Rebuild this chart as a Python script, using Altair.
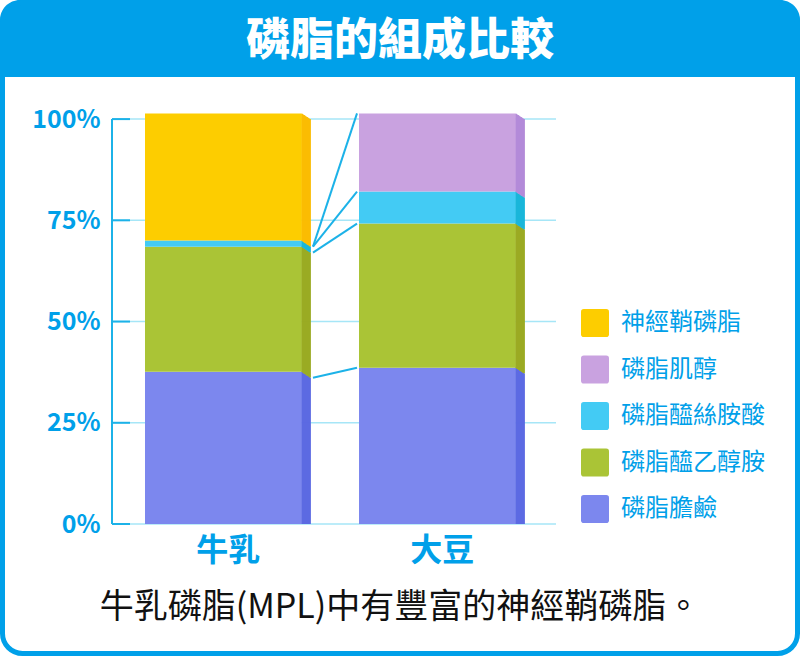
import altair as alt
import pandas as pd

# ---------------- data ----------------
TITLE = "磷脂的組成比較"
CAPTION = "牛乳磷脂(MPL)中有豐富的神經鞘磷脂。"
SOURCES = ["牛乳", "大豆"]
# stacking order, bottom -> top
LIPIDS = ["磷脂膽鹼", "磷脂醯乙醇胺", "磷脂醯絲胺酸", "磷脂肌醇", "神經鞘磷脂"]
MILK = [37.6, 30.9, 1.5, 0.0, 31.4]
SOY = [38.6, 35.6, 7.9, 19.3, 0.0]
Y_TICKS = [0, 25, 50, 75, 100]
LEGEND_ORDER = ["神經鞘磷脂", "磷脂肌醇", "磷脂醯絲胺酸", "磷脂醯乙醇胺", "磷脂膽鹼"]

# ---------------- styles ----------------
FONT = "Noto Sans CJK TC"
BLUE = "#00A0E9"
TICK = "#1CB2E8"
GRID = "#A6E6F7"
FRONT = ["#FDCD00", "#C9A2E0", "#43CBF4", "#AAC436", "#7C87EE"]
SIDE = ["#FBBC00", "#B38AD8", "#18B6DA", "#9AAA22", "#5B69E2"]
W, H = 444, 413
OX, OY = 112, 111
TOTAL_W, TOTAL_H = 800, 656
N_SLICES = 9

rows = []
for src, vals in zip(SOURCES, [MILK, SOY]):
    for rank, (lip, v) in enumerate(zip(LIPIDS, vals)):
        rows.append({"source": src, "lipid": lip, "value": v, "rank": rank})
df = pd.DataFrame(rows)

# connectors between cumulative tops of the lower four groups
conn = []
cm, cs = 0.0, 0.0
for i in range(4):
    cm += MILK[i]
    cs += SOY[i]
    conn.append({"source": SOURCES[0], "source2": SOURCES[1], "y1": cm, "y2": cs})
conn_df = pd.DataFrame(conn)

ticks_df = pd.DataFrame({"tick": Y_TICKS})
axisline_df = pd.DataFrame({"lo": [min(Y_TICKS)], "hi": [max(Y_TICKS)]})
one = pd.DataFrame({"a": [0]})

x_scale = alt.Scale(domain=SOURCES, paddingInner=0.2687, paddingOuter=0.1717, align=0.449)
y_scale = alt.Scale(domain=[0, 102], nice=False, zero=True)

X_AXIS = alt.Axis(title=None, domain=False, ticks=False, grid=False,
                  labelFont=FONT, labelFontSize=32, labelFontWeight="bold",
                  labelColor=BLUE, labelPadding=11, labelAngle=0, labelOffset=5)
Y_AXIS = alt.Axis(title=None, domain=False, ticks=False, grid=False,
                  values=Y_TICKS, labelExpr="datum.value + '%'",
                  labelFont=FONT, labelFontSize=25, labelFontWeight="bold",
                  labelColor=BLUE, labelPadding=12)

ROUNDED = ("M -0.8 -1 L 0.8 -1 Q 1 -1 1 -0.8 L 1 0.8 Q 1 1 0.8 1 "
           "L -0.8 1 Q -1 1 -1 0.8 L -1 -0.8 Q -1 -1 -0.8 -1 Z")

# ---------------- frame ----------------
frame = alt.Chart(one).mark_rect(filled=False, stroke=BLUE, strokeWidth=5, cornerRadius=20).encode(
    x=alt.value(-OX + 2.5), x2=alt.value(TOTAL_W - OX - 2.5),
    y=alt.value(-OY + 2.5), y2=alt.value(TOTAL_H - OY - 2.5),
)
header = alt.Chart(one).mark_rect(fill=BLUE, cornerRadiusTopLeft=20, cornerRadiusTopRight=20).encode(
    x=alt.value(-OX), x2=alt.value(TOTAL_W - OX),
    y=alt.value(-OY), y2=alt.value(77 - OY),
)
title = alt.Chart(one).mark_text(text=TITLE, font=FONT, fontSize=44, fontWeight=900,
                                 color="white", align="center", baseline="middle").encode(
    x=alt.value(TOTAL_W / 2 - OX), y=alt.value(42 - OY)
)
caption = alt.Chart(one).mark_text(text=CAPTION, font=FONT, fontSize=34,
                                   color="#111111", align="center", baseline="middle").encode(
    x=alt.value(TOTAL_W / 2 - OX), y=alt.value(608 - OY)
)

# ---------------- grid / axis ----------------
grid = alt.Chart(ticks_df).mark_rule(color=GRID, strokeWidth=1.5).encode(
    y=alt.Y("tick:Q", scale=y_scale, axis=Y_AXIS), x=alt.value(0), x2=alt.value(W)
)
tickmarks = alt.Chart(ticks_df).mark_rule(color=TICK, strokeWidth=2).encode(
    y=alt.Y("tick:Q", scale=y_scale, axis=Y_AXIS), x=alt.value(0), x2=alt.value(18)
)
axisline = alt.Chart(axisline_df).mark_rule(color=TICK, strokeWidth=2).encode(
    y=alt.Y("lo:Q", scale=y_scale, axis=Y_AXIS), y2="hi:Q", x=alt.value(0)
)

# ---------------- bars ----------------
base = alt.Chart(df).transform_filter("datum.value > 0").encode(
    x=alt.X("source:N", scale=x_scale, sort=SOURCES, axis=X_AXIS),
    y=alt.Y("value:Q", stack="zero", scale=y_scale, axis=Y_AXIS),
    order=alt.Order("rank:Q", sort="ascending"),
)
front = base.mark_bar().encode(
    color=alt.Color("lipid:N", scale=alt.Scale(domain=LEGEND_ORDER, range=FRONT),
                    legend=alt.Legend(orient="none", legendX=469, legendY=198, title=None,
                                      symbolType=ROUNDED, symbolSize=784, symbolStrokeWidth=0,
                                      symbolOpacity=1, labelFont=FONT, labelFontSize=24,
                                      labelColor=BLUE, labelOffset=12, rowPadding=18.5,
                                      padding=0, zindex=1))
)
sides = []
for k in range(N_SLICES):
    sides.append(
        base.mark_bar(width=1.8, xOffset=78.25 + 0.5 + k, yOffset=(k + 0.5) * 6 / N_SLICES,
                      clip=True).encode(
            color=alt.Color("lipid:N", scale=alt.Scale(domain=LEGEND_ORDER, range=SIDE), legend=None)
        )
    )

connectors = alt.Chart(conn_df).mark_rule(color=TICK, strokeWidth=2, xOffset=89.75,
                                          x2Offset=-80.25, yOffset=6).encode(
    x=alt.X("source:N", scale=x_scale, sort=SOURCES, axis=X_AXIS),
    x2="source2:N",
    y=alt.Y("y1:Q", scale=y_scale, axis=Y_AXIS),
    y2="y2:Q",
)

chart = alt.layer(
    header, frame, title, caption, grid, tickmarks, axisline, *sides, front, connectors
).resolve_scale(color="independent").properties(
    width=W, height=H,
    autosize=alt.AutoSizeParams(type="none"),
    padding={"left": OX, "top": OY, "right": TOTAL_W - OX - W, "bottom": TOTAL_H - OY - H},
    background="white",
).configure_view(strokeWidth=0)

chart.save("out.html", embed_options={"renderer": "svg", "actions": False})
